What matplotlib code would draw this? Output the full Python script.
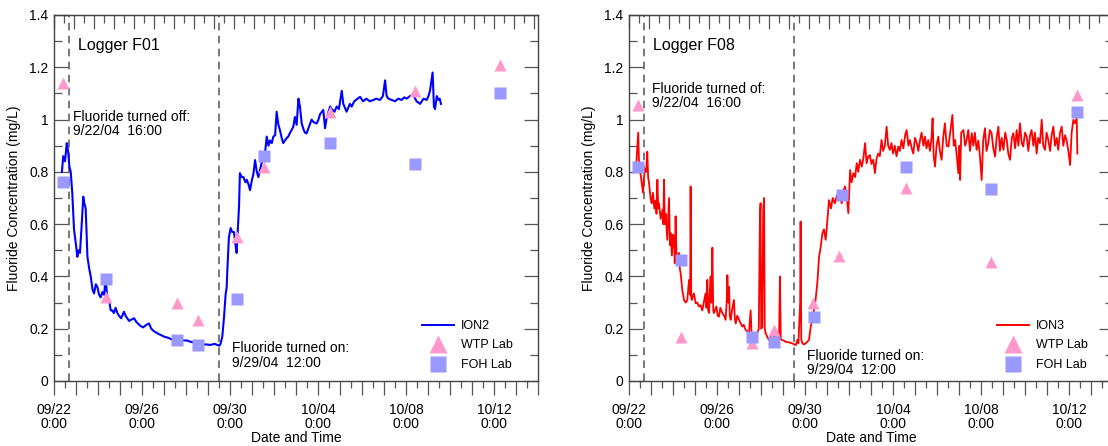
import numpy as np
import matplotlib
matplotlib.use("Agg")
import matplotlib.pyplot as plt
from matplotlib.ticker import FuncFormatter
from matplotlib.lines import Line2D

plt.rcParams['font.family'] = ['Liberation Sans', 'DejaVu Sans']

# ---------------- data (days since 09/22 0:00) ----------------
ion2_days = [0.36, 0.42, 0.50, 0.58, 0.64, 0.70, 0.76, 0.83, 0.91, 1.00, 1.06, 1.12, 1.18, 1.26, 1.33,
             1.38, 1.44, 1.52, 1.60, 1.67, 1.75, 1.82, 1.90, 1.97, 2.05, 2.12, 2.20, 2.28, 2.35, 2.40,
             2.44, 2.52, 2.58, 2.65, 2.72, 2.80, 2.88, 2.95, 3.05, 3.18, 3.25, 3.41, 3.52, 3.64, 3.75,
             3.94, 4.05, 4.20, 4.32, 4.42, 4.55, 4.75, 5.00, 5.20, 5.45, 5.70, 5.90, 6.05, 6.20, 6.45,
             6.67, 6.90, 7.12, 7.30, 7.42, 7.52, 7.58, 7.65, 7.73, 7.80, 7.85, 7.88, 7.95, 8.03, 8.10,
             8.18, 8.25, 8.30, 8.36, 8.41, 8.45, 8.53, 8.61, 8.70, 8.76, 8.85, 8.91, 9.00, 9.06, 9.14,
             9.22, 9.29, 9.37, 9.44, 9.52, 9.59, 9.67, 9.75, 9.82, 9.90, 9.97, 10.05, 10.12, 10.20, 10.27,
             10.35, 10.42, 10.50, 10.58, 10.65, 10.73, 10.80, 10.88, 10.95, 11.03, 11.11, 11.18, 11.26,
             11.35, 11.41, 11.48, 11.58, 11.71, 11.80, 11.94, 12.02, 12.09, 12.24, 12.32, 12.40, 12.55,
             12.62, 12.75, 12.85, 12.95, 13.08, 13.15, 13.30, 13.45, 13.53, 13.65, 13.80, 13.91, 14.05,
             14.20, 14.35, 14.52, 14.65, 14.82, 14.95, 15.05, 15.12, 15.20, 15.35, 15.50, 15.65, 15.80,
             15.92, 16.03, 16.18, 16.33, 16.48, 16.64, 16.80, 16.94, 17.02, 17.09, 17.21, 17.27, 17.32,
             17.40, 17.47, 17.53, 17.59]
ion2_conc = [0.80, 0.86, 0.84, 0.91, 0.88, 0.82, 0.80, 0.72, 0.58, 0.52, 0.475, 0.50, 0.49, 0.60, 0.705,
             0.68, 0.66, 0.475, 0.43, 0.40, 0.35, 0.335, 0.37, 0.36, 0.33, 0.32, 0.34, 0.33, 0.40, 0.34,
             0.31, 0.30, 0.27, 0.27, 0.26, 0.28, 0.26, 0.25, 0.24, 0.265, 0.25, 0.23, 0.235, 0.24, 0.225,
             0.21, 0.205, 0.215, 0.22, 0.20, 0.19, 0.18, 0.17, 0.165, 0.155, 0.16, 0.155, 0.155, 0.15, 0.145,
             0.138, 0.14, 0.138, 0.142, 0.138, 0.135, 0.145, 0.17, 0.246, 0.33, 0.36, 0.425, 0.55, 0.585, 0.57,
             0.57, 0.52, 0.49, 0.59, 0.667, 0.795, 0.78, 0.78, 0.76, 0.77, 0.75, 0.73, 0.77, 0.79, 0.845,
             0.80, 0.78, 0.81, 0.835, 0.85, 0.87, 0.935, 0.90, 0.92, 0.91, 0.935, 0.94, 1.03, 0.98, 0.96,
             0.93, 0.91, 0.92, 0.93, 0.935, 0.95, 0.96, 0.973, 1.01, 0.98, 1.08, 1.05, 0.985,
             0.96, 0.95, 0.947, 0.97, 1.00, 0.99, 0.985, 1.00, 1.02, 1.037, 0.967, 1.01, 1.05,
             1.04, 1.03, 1.05, 1.04, 1.11, 1.06, 1.03, 1.06, 1.05, 1.07, 1.08, 1.087, 1.07,
             1.08, 1.07, 1.075, 1.08, 1.075, 1.09, 1.15, 1.09, 1.08, 1.075, 1.07, 1.08, 1.075,
             1.085, 1.08, 1.09, 1.094, 1.07, 1.06, 1.08, 1.075, 1.09, 1.11, 1.18, 1.05, 1.04,
             1.09, 1.075, 1.08, 1.06]

ion3_days = [0.33, 0.38, 0.42, 0.45, 0.48, 0.53, 0.58, 0.64, 0.68, 0.73, 0.78, 0.83, 0.87, 0.91, 0.98,
             1.03, 1.09, 1.15, 1.21, 1.25, 1.29, 1.33, 1.36, 1.44, 1.52, 1.56, 1.59, 1.63, 1.67, 1.74,
             1.78, 1.82, 1.86, 1.89, 1.95, 2.00, 2.05, 2.08, 2.12, 2.16, 2.20, 2.27, 2.31, 2.35, 2.42,
             2.50, 2.58, 2.65, 2.73, 2.78, 2.80, 2.83, 2.85, 2.95, 3.03, 3.10, 3.18, 3.25, 3.33, 3.40,
             3.48, 3.52, 3.56, 3.60, 3.64, 3.68, 3.71, 3.75, 3.79, 3.83, 3.86, 3.97, 4.03, 4.09, 4.15,
             4.24, 4.32, 4.39, 4.44, 4.47, 4.52, 4.55, 4.58, 4.62, 4.70, 4.77, 4.81, 4.85, 4.92, 5.00,
             5.08, 5.15, 5.22, 5.30, 5.38, 5.45, 5.53, 5.57, 5.61, 5.68, 5.75, 5.83, 5.90, 5.95, 5.98,
             6.01, 6.06, 6.10, 6.14, 6.17, 6.21, 6.28, 6.36, 6.44, 6.52, 6.60, 6.67, 6.75, 6.82, 6.86,
             6.90, 6.94, 7.03, 7.12, 7.25, 7.42, 7.58, 7.65, 7.70, 7.78, 7.80, 7.83, 7.88, 7.95, 8.03,
             8.10, 8.18, 8.26, 8.33, 8.40, 8.48, 8.56, 8.64, 8.71, 8.79, 8.86, 8.94, 9.02, 9.09, 9.18,
             9.26, 9.36, 9.45, 9.52, 9.59, 9.67, 9.75, 9.82, 9.90, 9.97, 10.05, 10.12, 10.20, 10.28, 10.35,
             10.42, 10.50, 10.58, 10.65, 10.73, 10.80, 10.88, 10.95, 11.02, 11.10, 11.18, 11.25, 11.33,
             11.40, 11.48, 11.55, 11.63, 11.71, 11.78, 11.86, 11.93, 12.00, 12.08, 12.16, 12.24, 12.31,
             12.39, 12.47, 12.55, 12.62, 12.70, 12.77, 12.85, 12.92, 13.00, 13.08, 13.15, 13.23, 13.30,
             13.38, 13.45, 13.52, 13.60, 13.68, 13.75, 13.80, 13.85, 13.91, 13.98, 14.06, 14.13, 14.21,
             14.28, 14.36, 14.44, 14.52, 14.60, 14.70, 14.76, 14.82, 14.90, 14.97, 15.02, 15.05, 15.10,
             15.20, 15.28, 15.35, 15.42, 15.50, 15.58, 15.65, 15.72, 15.80, 15.88, 15.95, 16.03, 16.10,
             16.18, 16.25, 16.33, 16.40, 16.48, 16.56, 16.64, 16.71, 16.79, 16.86, 16.94, 17.02, 17.10,
             17.17, 17.24, 17.32, 17.40, 17.47, 17.55, 17.62, 17.70, 17.77, 17.85, 17.92, 18.00, 18.08,
             18.15, 18.23, 18.30, 18.38, 18.45, 18.53, 18.60, 18.68, 18.76, 18.83, 18.91, 18.98, 19.06,
             19.14, 19.21, 19.29, 19.36, 19.44, 19.51, 19.59, 19.67, 19.74, 19.82, 19.89, 19.97, 20.05,
             20.12, 20.20, 20.27, 20.35, 20.38]
ion3_conc = [0.83, 0.90, 0.95, 0.85, 0.82, 0.79, 0.757, 0.72, 0.78, 0.81, 0.80, 0.877, 0.78, 0.757, 0.70,
             0.68, 0.72, 0.66, 0.69, 0.64, 0.77, 0.66, 0.68, 0.62, 0.655, 0.60, 0.77, 0.60, 0.64, 0.54,
             0.62, 0.70, 0.52, 0.565, 0.48, 0.56, 0.54, 0.45, 0.63, 0.46, 0.476, 0.49, 0.43, 0.41, 0.35,
             0.31, 0.30, 0.31, 0.387, 0.33, 0.744, 0.32, 0.31, 0.335, 0.297, 0.30, 0.285, 0.29, 0.27, 0.30,
             0.335, 0.28, 0.387, 0.27, 0.26, 0.35, 0.40, 0.30, 0.51, 0.27, 0.26, 0.285, 0.25, 0.246, 0.28,
             0.26, 0.25, 0.234, 0.30, 0.405, 0.30, 0.36, 0.25, 0.234, 0.28, 0.31, 0.24, 0.22, 0.25, 0.234,
             0.22, 0.208, 0.215, 0.195, 0.19, 0.183, 0.27, 0.18, 0.17, 0.183, 0.18, 0.183, 0.20, 0.62, 0.68,
             0.20, 0.208, 0.65, 0.70, 0.20, 0.183, 0.17, 0.157, 0.17, 0.183, 0.165, 0.17, 0.16, 0.157, 0.40,
             0.16, 0.157, 0.155, 0.15, 0.148, 0.144, 0.137, 0.157, 0.144, 0.30, 0.61, 0.16, 0.144, 0.14, 0.144,
             0.15, 0.157, 0.208, 0.234, 0.27, 0.31, 0.375, 0.476, 0.51, 0.565, 0.58, 0.54, 0.617, 0.692, 0.66,
             0.70, 0.68, 0.71, 0.69, 0.705, 0.68, 0.73, 0.744, 0.70, 0.642, 0.807, 0.76, 0.795, 0.78, 0.833,
             0.80, 0.846, 0.82, 0.85, 0.91, 0.833, 0.86, 0.864, 0.83, 0.846, 0.795, 0.85, 0.87,
             0.86, 0.922, 0.88, 0.90, 0.973, 0.90, 0.884, 0.91, 0.87, 0.90, 0.86, 0.897, 0.88,
             0.922, 0.89, 0.94, 0.96, 0.90, 0.922, 0.89, 0.87, 0.93, 0.91, 0.88, 0.922, 0.95,
             0.90, 0.935, 0.89, 0.922, 0.88, 0.93, 1.005, 0.86, 0.82, 0.90, 0.935, 0.88, 0.846,
             0.93, 0.986, 0.90, 0.897, 0.95, 1.018, 0.90, 0.922, 0.86, 0.795, 0.90, 0.769, 0.95,
             0.96, 0.90, 0.922, 0.96, 0.88, 0.948, 0.90, 0.95, 0.884, 0.92, 0.86, 0.769, 0.92,
             0.967, 0.88, 0.91, 0.96, 0.948, 0.89, 0.858, 0.93, 0.973, 0.88, 0.93, 0.884, 0.95,
             0.922, 0.87, 0.846, 0.93, 0.948, 0.89, 0.96, 0.90, 0.986, 0.91, 0.897, 0.95, 0.935,
             0.88, 0.94, 0.96, 0.90, 0.95, 0.87, 0.93, 0.91, 0.999, 0.90, 0.884, 0.95, 0.922,
             0.88, 0.94, 0.973, 0.90, 0.93, 0.884, 0.95, 0.973, 0.90, 0.94, 0.922, 0.88, 0.826,
             0.95, 0.999, 0.986, 1.005, 0.87]

f01_wtp_days = [0.39, 2.35, 5.58, 6.55, 8.33, 9.56, 12.55, 16.41, 20.27]
f01_wtp_conc = [1.14, 0.32, 0.30, 0.233, 0.55, 0.82, 1.03, 1.11, 1.21]
f01_foh_days = [0.39, 2.35, 5.58, 6.55, 8.33, 9.56, 12.55, 16.41, 20.27]
f01_foh_conc = [0.76, 0.39, 0.157, 0.138, 0.313, 0.86, 0.91, 0.83, 1.10]

f08_wtp_days = [0.42, 2.35, 5.58, 6.59, 8.36, 9.55, 12.59, 16.44, 20.38]
f08_wtp_conc = [1.056, 0.17, 0.144, 0.195, 0.297, 0.48, 0.74, 0.456, 1.094]
f08_foh_days = [0.40, 2.35, 5.58, 6.59, 8.41, 9.67, 12.59, 16.44, 20.38]
f08_foh_conc = [0.82, 0.463, 0.167, 0.15, 0.246, 0.71, 0.817, 0.733, 1.03]

off_day = 16 / 24.0      # 9/22/04 16:00
on_day = 7 + 12 / 24.0   # 9/29/04 12:00

date_tick_days = [0, 4, 8, 12, 16, 20]
date_tick_labels = ["09/22\n0:00", "09/26\n0:00", "09/30\n0:00",
                    "10/04\n0:00", "10/08\n0:00", "10/12\n0:00"]

# ---------------- styling ----------------
W, H = 1108, 446
fig = plt.figure(figsize=(W / 100, H / 100), dpi=100)

PINK = '#FF99CC'
LAV = '#9999FF'
TICKC = '#555555'


def setup(ax, days, conc, color, name, wtp_d, wtp_c, foh_d, foh_c, logger, offtxt, ontxt, lw):
    ax.plot(days, conc, color=color, lw=lw, zorder=3, label=name)
    ax.plot(wtp_d, wtp_c, linestyle='none', marker='^', ms=9, color=PINK, mec='none', zorder=4,
            label='WTP Lab')
    ax.plot(foh_d, foh_c, linestyle='none', marker='s', ms=8, color=LAV, mec='none', zorder=4,
            label='FOH Lab')
    for d in (off_day, on_day):
        ax.axvline(d, color='#555555', lw=1.1, ls=(0, (5, 3.5)), zorder=2)

    ax.set_xlim(0, 22)
    ax.set_ylim(0, 1.4)
    ax.set_xticks(np.arange(0, 22.01, 1.0))
    ax.set_xticks(np.arange(0, 22.01, 0.5), minor=True)
    labs = []
    for d in np.arange(0, 22.01, 1.0):
        if int(round(d)) in date_tick_days:
            labs.append(date_tick_labels[date_tick_days.index(int(round(d)))])
        else:
            labs.append('')
    ax.set_xticklabels(labs, fontsize=10, linespacing=0.95)
    ax.tick_params(axis='x', which='major', direction='out', length=10, width=0.9, color=TICKC, pad=6)
    ax.tick_params(axis='x', which='minor', direction='out', length=5, width=0.9, color=TICKC)

    ax.set_yticks(np.arange(0, 1.41, 0.2))
    ax.set_yticks(np.arange(0, 1.41, 0.1), minor=True)
    ax.yaxis.set_major_formatter(FuncFormatter(lambda v, p: '%g' % round(v, 2)))
    ax.tick_params(axis='y', which='major', direction='in', length=10, width=0.9, color=TICKC,
                   right=True, labelsize=10, pad=4)
    ax.tick_params(axis='y', which='minor', direction='in', length=5.5, width=0.9, color=TICKC,
                   right=True)

    top = ax.secondary_xaxis('top')
    top.set_xticks(np.arange(0, 22.01, 0.909))
    top.set_xticks(np.arange(0, 22.01, 0.4545), minor=True)
    top.tick_params(which='major', direction='in', length=10, width=0.9, color=TICKC, labeltop=False)
    top.tick_params(which='minor', direction='in', length=5.5, width=0.9, color=TICKC)
    top.spines['top'].set_color('#444444')

    for s in ax.spines.values():
        s.set_color('#444444')
        s.set_linewidth(1.0)

    ax.set_xlabel('Date and Time', fontsize=10, labelpad=0)
    ax.set_ylabel('Fluoride Concentration (mg/L)', fontsize=10, labelpad=6)

    ax.text(1.08, 1.285, logger, fontsize=11.5, ha='left', va='center')
    ax.text(offtxt[0], offtxt[1], offtxt[2], fontsize=10, ha='left', va='center', linespacing=1.05)
    ax.text(ontxt[0], ontxt[1], ontxt[2], fontsize=10, ha='left', va='center', linespacing=1.05)

    handles = [Line2D([], [], color=color, lw=1.4),
               Line2D([], [], ls='none', marker='^', ms=13, color=PINK, mec='none'),
               Line2D([], [], ls='none', marker='s', ms=12, color=LAV, mec='none')]
    ax.legend(handles, [name, 'WTP Lab', 'FOH Lab'], loc='center left',
              bbox_to_anchor=(0.760, 0.097), frameon=False, fontsize=9,
              borderpad=0, borderaxespad=0, handlelength=2.6, handletextpad=0.5,
              labelspacing=0.6)


bottom = 1 - 381 / H
height = 366 / H
ax1 = fig.add_axes([54 / W, bottom, 484 / W, height])
ax2 = fig.add_axes([629 / W, bottom, 484 / W, height])

setup(ax1, ion2_days, ion2_conc, '#0000FF', 'ION2', f01_wtp_days, f01_wtp_conc,
      f01_foh_days, f01_foh_conc, 'Logger F01',
      (0.85, 0.983, 'Fluoride turned off:\n9/22/04  16:00'),
      (8.09, 0.097, 'Fluoride turned on:\n9/29/04  12:00'), 1.5)
setup(ax2, ion3_days, ion3_conc, '#FF0000', 'ION3', f08_wtp_days, f08_wtp_conc,
      f08_foh_days, f08_foh_conc, 'Logger F08',
      (1.05, 1.09, 'Fluoride turned of:\n9/22/04  16:00'),
      (8.08, 0.069, 'Fluoride turned on:\n9/29/04  12:00'), 1.3)

fig.savefig('out.png', dpi=100)
